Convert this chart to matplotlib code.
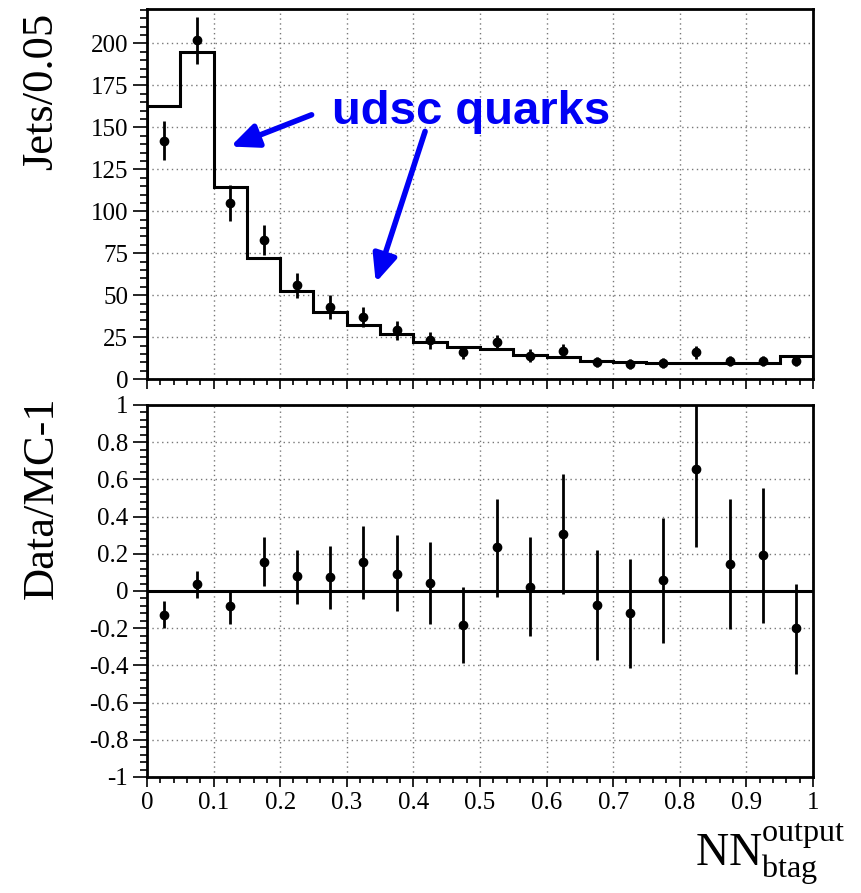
import numpy as np
import matplotlib
matplotlib.use("Agg")
import matplotlib.pyplot as plt
from matplotlib.ticker import MultipleLocator, FuncFormatter

plt.rcParams['font.family'] = ['Liberation Serif', 'DejaVu Serif']
plt.rcParams['mathtext.fontset'] = 'custom'
plt.rcParams['mathtext.rm'] = 'Liberation Serif'
plt.rcParams['axes.unicode_minus'] = False

# NN output bins (width 0.05)
bin_edges = np.linspace(0.0, 1.0, 21)
bin_centres = 0.5 * (bin_edges[:-1] + bin_edges[1:])

# MC expectation (udsc jets) per bin
mc = [162.5, 195.0, 114.4, 72.4, 52.5, 39.8, 32.2, 26.7, 22.3, 19.3,
      17.9, 14.3, 12.9, 10.7, 10.1, 9.5, 9.5, 9.3, 9.5, 13.6]

# data points with errors
data = [142, 202, 105, 83, 56, 43, 37, 29, 23, 16,
        22, 14, 17, 10, 9, 9.5, 16, 11, 11, 11]
data_err = [11.6, 14, 10.5, 9, 7.5, 7, 6, 5.5, 5, 4,
            4.5, 4, 4, 3, 3, 3, 4, 3, 3, 3]

# Data/MC - 1 with lower and upper ends of the error bars
ratio = [-0.127, 0.04, -0.08, 0.158, 0.081, 0.076, 0.156, 0.094, 0.043, -0.185,
         0.234, 0.022, 0.309, -0.073, -0.117, 0.058, 0.655, 0.147, 0.192, -0.2]
ratio_hi = [-0.054, 0.106, 0.0, 0.29, 0.223, 0.24, 0.348, 0.3, 0.264, 0.022,
            0.497, 0.29, 0.628, 0.219, 0.174, 0.393, 1.05, 0.494, 0.551, 0.04]
ratio_lo = [-0.2, -0.036, -0.176, 0.027, -0.068, -0.095, -0.041, -0.108, -0.176, -0.388,
            -0.032, -0.244, -0.014, -0.37, -0.414, -0.278, 0.237, -0.203, -0.17, -0.445]

blue = '#0000f5'

fig = plt.figure(figsize=(8.61, 8.93), dpi=100)
ax1 = fig.add_axes([0.1707, 0.5755, 0.7735, 0.4145])
ax2 = fig.add_axes([0.1707, 0.1299, 0.7735, 0.4166])

fmt = FuncFormatter(lambda v, p: '%g' % round(v, 4))

for ax in (ax1, ax2):
    ax.set_xlim(0, 1)
    ax.xaxis.set_major_locator(MultipleLocator(0.1))
    ax.xaxis.set_minor_locator(MultipleLocator(0.02))
    ax.grid(True, which='major', linestyle=(0, (1, 2.5)), color='#777777', linewidth=1.0)
    ax.set_axisbelow(True)
    for s in ax.spines.values():
        s.set_linewidth(2)
    ax.tick_params(which='both', direction='out', width=1.2, labelsize=18)
    ax.tick_params(axis='y', which='major', length=10)
    ax.tick_params(axis='y', which='minor', length=5)
    ax.tick_params(axis='x', which='major', length=7)
    ax.tick_params(axis='x', which='minor', length=4)
    ax.xaxis.set_major_formatter(fmt)
    ax.yaxis.set_major_formatter(fmt)

# upper panel
ax1.stairs(mc, bin_edges, color='black', linewidth=2.2)
ax1.errorbar(bin_centres, data, yerr=data_err, fmt='o', color='black',
             markersize=6, elinewidth=2, capsize=0)
ax1.set_ylim(0, 220.6)
ax1.yaxis.set_major_locator(MultipleLocator(25))
ax1.yaxis.set_minor_locator(MultipleLocator(5))
ax1.tick_params(axis='x', labelbottom=False)

ax1.text(0.2777, 152.1, 'udsc quarks', color=blue, fontsize=34,
         fontweight='bold', family='Liberation Sans', ha='left', va='baseline')
arrow = dict(arrowstyle='-|>,head_length=0.75,head_width=0.33', lw=4,
             color=blue, shrinkA=0, shrinkB=0, mutation_scale=22)
ax1.annotate('', xy=(0.1254, 138.6), xytext=(0.2472, 157.5), arrowprops=arrow)
ax1.annotate('', xy=(0.3435, 57.5), xytext=(0.4176, 147.6), arrowprops=arrow)

# lower panel
r = np.array(ratio)
rerr = [r - np.array(ratio_lo), np.array(ratio_hi) - r]
ax2.axhline(0, color='black', linewidth=2.2)
ax2.errorbar(bin_centres, r, yerr=rerr, fmt='o', color='black',
             markersize=6, elinewidth=2, capsize=0, clip_on=True)
ax2.set_ylim(-1, 1)
ax2.yaxis.set_major_locator(MultipleLocator(0.2))
ax2.yaxis.set_minor_locator(MultipleLocator(0.04))

fig.text(0.048, 0.986, 'Jets/0.05', rotation=90, fontsize=32, ha='center', va='top')
fig.text(0.048, 0.556, 'Data/MC-1', rotation=90, fontsize=32, ha='center', va='top')
fig.text(0.982, 0.031, r'$\mathrm{NN}_{\mathrm{btag}}^{\mathrm{output}}$',
         fontsize=33, ha='right', va='baseline')

fig.savefig('out.png', dpi=100)
